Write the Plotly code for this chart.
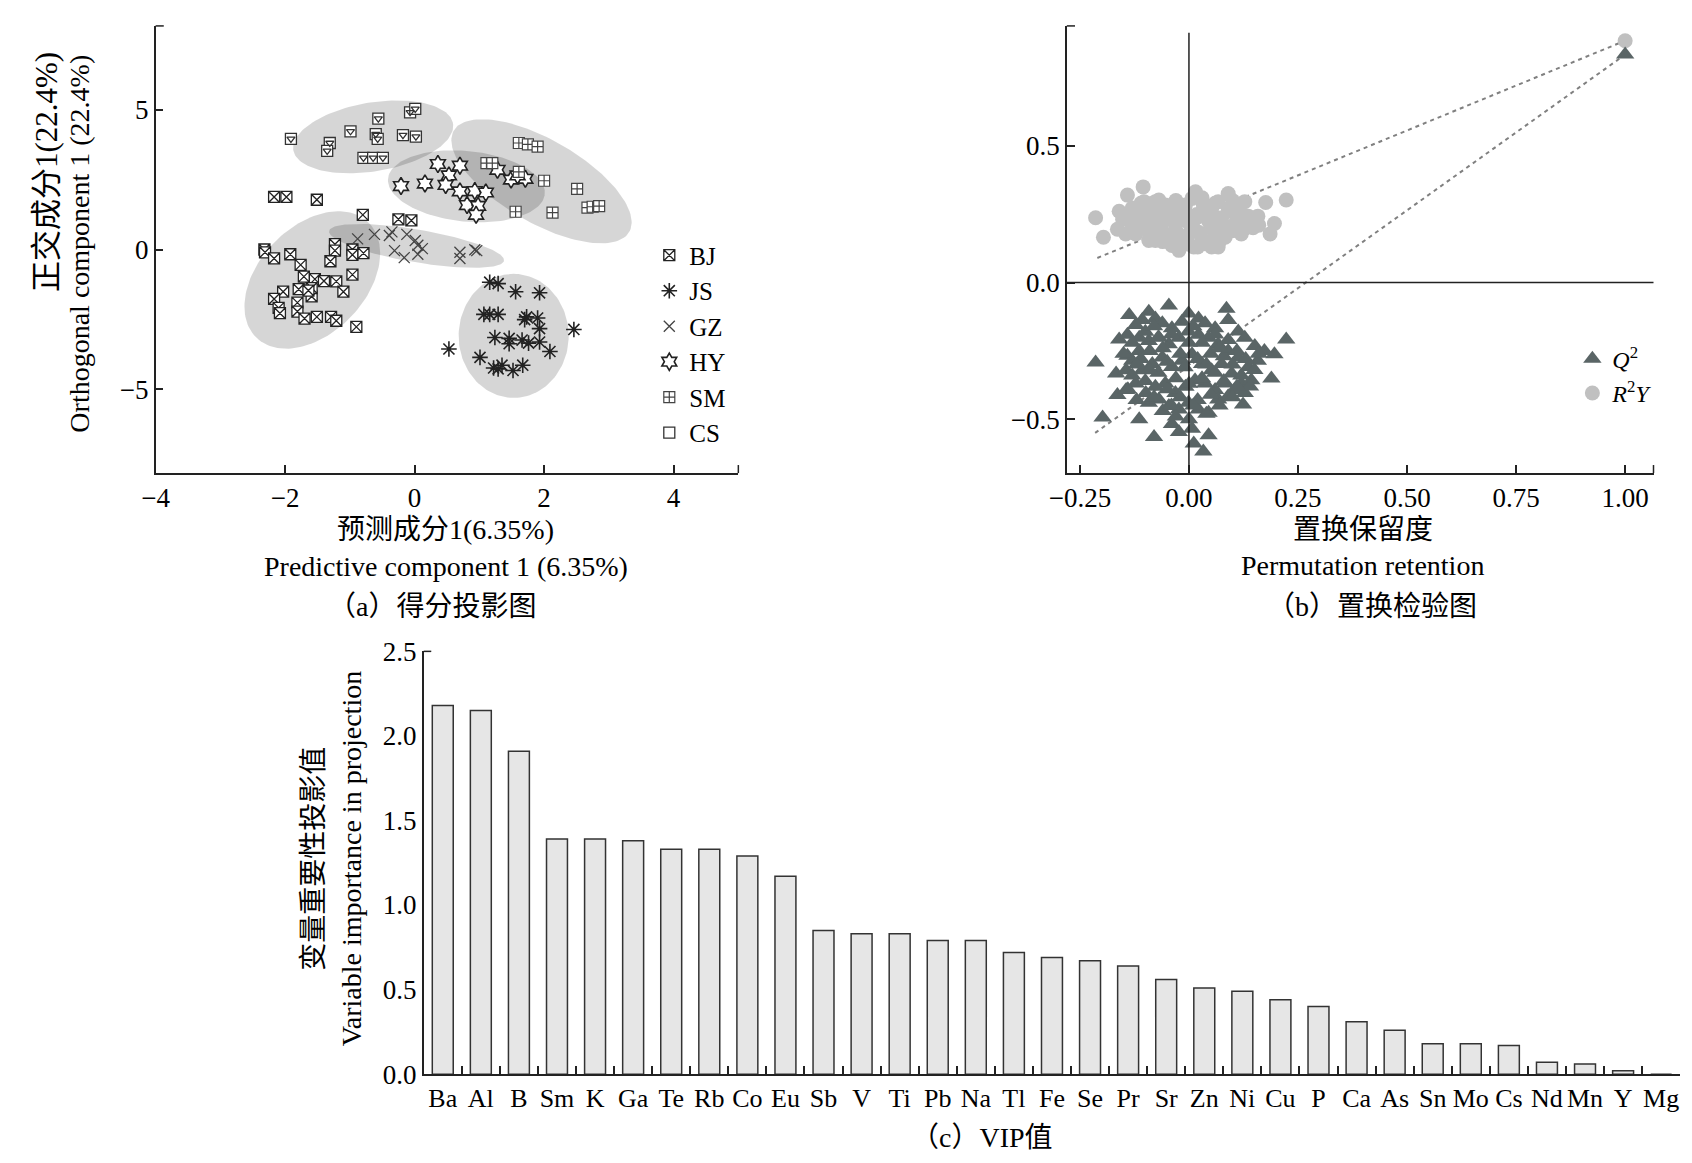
import numpy as np
import plotly.graph_objects as go

W, H = 1692, 1163
FONT = "Liberation Serif, Noto Sans CJK SC, serif"
INK = "#222222"

# ---------------- (a) score plot ----------------
bj_x = [-2.17, -1.98, -1.51, -0.80, -0.25, -0.05, -2.32, -2.31, -2.17, -1.92, -1.23, -1.23, -1.30,
        -0.96, -0.96, -0.79, -1.76, -1.71, -1.54, -1.40, -1.21, -0.96, -1.10, -1.79, -2.03, -2.17,
        -2.10, -2.08, -1.81, -1.81, -1.59, -1.70, -1.51, -1.29, -1.21, -0.90, -1.59, -1.64]
bj_y = [1.88, 1.88, 1.78, 1.24, 1.08, 1.04, 0.00, -0.10, -0.32, -0.17, 0.19, -0.04, -0.42,
        0.00, -0.19, -0.13, -0.55, -0.97, -1.06, -1.13, -1.14, -0.90, -1.51, -1.42, -1.51, -1.77,
        -2.09, -2.28, -1.90, -2.22, -1.68, -2.47, -2.41, -2.41, -2.55, -2.77, -1.38, -1.47]

js_x = [1.16, 1.29, 1.56, 1.93, 1.07, 1.16, 1.29, 1.70, 1.73, 1.90, 1.93, 2.46, 1.24,
        1.46, 1.66, 1.76, 1.93, 2.09, 1.46, 0.53, 1.01, 1.22, 1.35, 1.52, 1.67, 1.29]
js_y = [-1.17, -1.22, -1.51, -1.55, -2.32, -2.32, -2.32, -2.51, -2.41, -2.45, -2.83, -2.86, -3.15,
        -3.18, -3.24, -3.35, -3.31, -3.65, -3.37, -3.56, -3.86, -4.24, -4.14, -4.33, -4.14, -4.27]

gz_x = [-0.88, -0.62, -0.39, -0.35, -0.12, -0.31, -0.16, 0.01, 0.05, 0.12, 0.05, 0.70, 0.70, 0.93, 0.96]
gz_y = [0.38, 0.54, 0.50, 0.63, 0.54, -0.04, -0.29, 0.32, 0.15, 0.03, -0.17, -0.10, -0.32, -0.01, -0.04]

hy_x = [-0.21, 0.16, 0.36, 0.70, 0.53, 0.48, 0.70, 0.93, 1.10, 0.81, 0.98, 0.95, 1.28, 1.49, 1.71, 1.59]
hy_y = [2.27, 2.36, 3.06, 3.00, 2.65, 2.31, 2.08, 2.09, 2.04, 1.59, 1.56, 1.24, 2.85, 2.50, 2.53, 2.65]

sm_x = [1.61, 1.75, 1.90, 1.11, 1.20, 1.61, 2.00, 2.51, 2.67, 2.75, 2.85, 1.56, 2.13]
sm_y = [3.81, 3.76, 3.68, 3.09, 3.09, 2.78, 2.46, 2.17, 1.50, 1.53, 1.55, 1.35, 1.32]

cs_x = [-1.91, -1.31, -1.35, -0.99, -0.56, -0.60, -0.57, -0.79, -0.64, -0.49, -0.18, 0.02, -0.07, 0.01]
cs_y = [3.96, 3.81, 3.53, 4.23, 4.68, 4.13, 3.96, 3.28, 3.28, 3.28, 4.09, 4.04, 4.91, 5.03]

# group ellipses: centre x, centre y, semi-axes (x units), tilt (deg)
ell_cx = [-1.58, 1.53, 0.03, 0.80, 1.96, -0.64]
ell_cy = [-1.09, -3.09, 0.13, 2.26, 2.44, 4.03]
ell_a = [1.42, 1.18, 1.38, 1.22, 1.67, 1.26]
ell_b = [0.89, 0.85, 0.31, 0.67, 0.74, 0.65]
ell_ang = [60, 90, -12, -8, -38, 13]
Y_PER_X = 1.88

# ---------------- (b) permutation test ----------------
r2y_x = [-0.214, -0.196, -0.160, -0.164, -0.141, -0.152, -0.130, -0.105, -0.103, -0.114, -0.122,
         -0.092, -0.084, -0.077, -0.069, -0.061, -0.054, -0.046, -0.039, -0.031, -0.023, -0.016,
         -0.008, -0.005, 0.007, 0.011, 0.018, 0.022, 0.033, 0.037, 0.045, 0.052, 0.060, 0.067,
         0.075, 0.083, 0.090, 0.094, 0.105, 0.113, 0.120, 0.128, 0.136, 0.147, 0.158, 0.176,
         0.223, 0.196, 0.186, 0.113, 0.052, -0.077, -0.092, -0.023, 0.015, 0.067, -0.054,
         -0.107, -0.145, 0.000,
         -0.13, -0.12, -0.10, -0.09, -0.08, -0.07, -0.06, -0.05, -0.04, -0.03, -0.02, -0.01,
         0.00, 0.01, 0.02, 0.03, 0.04, 0.05, 0.06, 0.07, 0.08, 0.09, 0.10, 0.11, 0.12, 0.13,
         0.14, -0.11, -0.03, 0.03, 0.06, -0.06, 0.02, 0.05, -0.02, 0.16, 0.10, -0.14, 0.08, -0.09,
         1.000]
r2y_y = [0.237, 0.166, 0.261, 0.195, 0.320, 0.231, 0.273, 0.350, 0.296, 0.225, 0.178,
         0.261, 0.207, 0.154, 0.302, 0.237, 0.178, 0.273, 0.136, 0.213, 0.261, 0.166,
         0.284, 0.225, 0.308, 0.130, 0.249, 0.184, 0.284, 0.142, 0.225, 0.273, 0.178, 0.296,
         0.237, 0.166, 0.326, 0.261, 0.213, 0.284, 0.178, 0.296, 0.243, 0.201, 0.243, 0.293,
         0.302, 0.216, 0.178, 0.249, 0.130, 0.296, 0.154, 0.118, 0.332, 0.130, 0.284,
         0.249, 0.178, 0.178,
         0.21, 0.25, 0.20, 0.23, 0.27, 0.19, 0.22, 0.25, 0.16, 0.19, 0.23, 0.27,
         0.14, 0.20, 0.24, 0.16, 0.27, 0.20, 0.24, 0.15, 0.21, 0.27, 0.19, 0.23, 0.25, 0.20,
         0.22, 0.29, 0.30, 0.31, 0.29, 0.15, 0.13, 0.14, 0.14, 0.21, 0.30, 0.24, 0.18, 0.17,
         0.885]

q2_x = [-0.214, -0.198, -0.164, -0.137, -0.114, -0.080, 0.223, 0.189, 0.196, 0.124,
        -0.039, -0.023, 0.007, 0.045, 0.011, 0.033, -0.046, 0.086, -0.001, -0.092,
        -0.160, -0.141, -0.167, -0.144, -0.122, -0.107, -0.077, -0.061, -0.039, -0.016,
        0.022, 0.037, 0.060, 0.090, 0.113, 0.128, 0.151, 0.173, 0.158, 0.136,
        0.113, 0.090, 0.067, 0.045, 0.022, -0.001, -0.023, -0.046, -0.069, -0.092,
        -0.114, -0.130, -0.107, -0.084, -0.061, -0.039, -0.016, 0.007, 0.030, 0.052,
        0.075, 0.098, 0.120, 0.105, 0.083, 0.060, 0.037, 0.014, -0.008, -0.031,
        -0.054, -0.077, -0.099, -0.122, -0.144, -0.092, -0.069, -0.046, -0.023, -0.001,
        0.022, 0.045, 0.067, 0.090, 0.128, 0.143, -0.141, -0.114,
        -0.15, -0.13, -0.13, -0.12, -0.11, -0.10, -0.10, -0.09, -0.08, -0.08, -0.07, -0.06,
        -0.06, -0.05, -0.05, -0.04, -0.03, -0.03, -0.02, -0.02, -0.01, 0.00, 0.00, 0.00,
        0.01, 0.02, 0.02, 0.03, 0.03, 0.04, 0.05, 0.05, 0.06, 0.06, 0.07, 0.08, 0.08, 0.09,
        0.10, 0.10, 0.11, 0.12, 0.13, 0.14, 0.15, 0.16, -0.12, -0.09, 0.04, 0.07, -0.04,
        0.01, -0.07, 0.11, -0.14,
        1.000]
q2_y = [-0.292, -0.494, -0.411, -0.119, -0.500, -0.565, -0.208, -0.351, -0.262, -0.446,
        -0.517, -0.547, -0.535, -0.559, -0.589, -0.618, -0.084, -0.096, -0.113, -0.107,
        -0.208, -0.191, -0.333, -0.321, -0.155, -0.137, -0.131, -0.149, -0.167, -0.143,
        -0.131, -0.149, -0.167, -0.137, -0.179, -0.202, -0.232, -0.250, -0.286, -0.309,
        -0.274, -0.250, -0.226, -0.202, -0.191, -0.179, -0.202, -0.226, -0.202, -0.214,
        -0.250, -0.286, -0.321, -0.298, -0.274, -0.309, -0.286, -0.262, -0.298, -0.321,
        -0.298, -0.333, -0.369, -0.393, -0.369, -0.393, -0.369, -0.357, -0.381, -0.404,
        -0.369, -0.381, -0.404, -0.369, -0.393, -0.440, -0.428, -0.452, -0.464, -0.440,
        -0.464, -0.476, -0.428, -0.416, -0.404, -0.357, -0.268, -0.202,
        -0.26, -0.22, -0.34, -0.43, -0.28, -0.18, -0.36, -0.25, -0.42, -0.16, -0.33, -0.24,
        -0.47, -0.29, -0.39, -0.19, -0.35, -0.49, -0.26, -0.42, -0.31, -0.22, -0.37, -0.50,
        -0.16, -0.28, -0.43, -0.22, -0.35, -0.48, -0.26, -0.41, -0.19, -0.33, -0.45, -0.27,
        -0.36, -0.21, -0.30, -0.42, -0.25, -0.34, -0.28, -0.38, -0.32, -0.26, -0.30, -0.32,
        -0.30, -0.24, -0.45, -0.45, -0.20, -0.38, -0.39,
        0.834]

r2y_fit_x = [-0.21, 1.0]
r2y_fit_y = [0.09, 0.885]
q2_fit_x = [-0.215, 1.0]
q2_fit_y = [-0.55, 0.834]

# ---------------- (c) VIP ----------------
vip_labels = ["Ba", "Al", "B", "Sm", "K", "Ga", "Te", "Rb", "Co", "Eu", "Sb", "V", "Ti", "Pb", "Na",
              "Tl", "Fe", "Se", "Pr", "Sr", "Zn", "Ni", "Cu", "P", "Ca", "As", "Sn", "Mo", "Cs",
              "Nd", "Mn", "Y", "Mg"]
vip_values = [2.18, 2.15, 1.91, 1.39, 1.39, 1.38, 1.33, 1.33, 1.29, 1.17, 0.85, 0.83, 0.83, 0.79, 0.79,
              0.72, 0.69, 0.67, 0.64, 0.56, 0.51, 0.49, 0.44, 0.40, 0.31, 0.26, 0.18, 0.18, 0.17,
              0.07, 0.06, 0.02, 0.0]


def px(x):
    return x / W


def py(y):
    return 1 - y / H


fig = go.Figure()

# ellipses first, beneath the points
t = np.linspace(0, 2 * np.pi, 140)
for cx, cy, a, b, ang in zip(ell_cx, ell_cy, ell_a, ell_b, ell_ang):
    th = np.deg2rad(ang)
    ex = a * np.cos(t) * np.cos(th) - b * np.sin(t) * np.sin(th)
    ey = a * np.cos(t) * np.sin(th) + b * np.sin(t) * np.cos(th)
    fig.add_trace(go.Scatter(x=cx + ex, y=cy + ey * Y_PER_X, mode="lines", fill="toself",
                             fillcolor="rgba(0,0,0,0.16)", line=dict(width=0),
                             hoverinfo="skip", showlegend=False, xaxis="x", yaxis="y"))

groups = [
    ("BJ", bj_x, bj_y, dict(symbol="square-x", size=11, color="white", line=dict(color=INK, width=1.3))),
    ("JS", js_x, js_y, dict(symbol="asterisk-open", size=13, color=INK, line=dict(color=INK, width=1.6))),
    ("GZ", gz_x, gz_y, dict(symbol="x-thin-open", size=11, color="#444", line=dict(color="#444", width=1.3))),
    ("HY", hy_x, hy_y, dict(symbol="hexagram", size=13, color="white", line=dict(color=INK, width=1.6))),
    ("SM", sm_x, sm_y, dict(symbol="square-cross", size=11, color="white", line=dict(color="#444", width=1.2))),
    ("CS", cs_x, cs_y, dict(symbol="square", size=11, color="white", line=dict(color="#333", width=1.3))),
]
for name, gx, gy, mk in groups:
    fig.add_trace(go.Scatter(x=gx, y=gy, mode="markers", name=name, marker=mk,
                             xaxis="x", yaxis="y", legend="legend"))
fig.add_trace(go.Scatter(x=cs_x, y=cs_y, mode="markers", showlegend=False,
                         marker=dict(symbol="triangle-down-open", size=7, color="#333",
                                     line=dict(color="#333", width=1.3)),
                         xaxis="x", yaxis="y"))

# panel b
fig.add_trace(go.Scatter(x=r2y_fit_x, y=r2y_fit_y, mode="lines", showlegend=False,
                         line=dict(color="#808080", width=2, dash="4px,4px"), xaxis="x2", yaxis="y2"))
fig.add_trace(go.Scatter(x=q2_fit_x, y=q2_fit_y, mode="lines", showlegend=False,
                         line=dict(color="#808080", width=2, dash="4px,4px"), xaxis="x2", yaxis="y2"))
fig.add_trace(go.Scatter(x=r2y_x, y=r2y_y, mode="markers", name="<i>R</i><sup>2</sup><i>Y</i>",
                         marker=dict(symbol="circle", size=15, color="#c0c0c0", line=dict(width=0)),
                         xaxis="x2", yaxis="y2", legend="legend2"))
fig.add_trace(go.Scatter(x=q2_x, y=q2_y, mode="markers", name="<i>Q</i><sup>2</sup>",
                         marker=dict(symbol="triangle-up", size=16, color="#5a6566", line=dict(width=0)),
                         xaxis="x2", yaxis="y2", legend="legend2"))

# panel c
fig.add_trace(go.Bar(x=vip_labels, y=vip_values, width=0.55, showlegend=False,
                     marker=dict(color="#e6e6e6", line=dict(color="#333", width=1.5)),
                     xaxis="x3", yaxis="y3"))

tick_font = dict(family=FONT, size=27, color="black")
axis_common = dict(showline=True, linecolor=INK, linewidth=1.5, showgrid=False, zeroline=False,
                   ticks="inside", ticklen=8, tickcolor=INK, tickwidth=1.5, tickfont=tick_font,
                   fixedrange=True)

fig.update_layout(
    width=W, height=H,
    margin=dict(l=0, r=0, t=0, b=0),
    paper_bgcolor="white", plot_bgcolor="white",
    font=dict(family=FONT, size=28, color="black"),
    xaxis=dict(domain=[px(131), px(720)], range=[-4, 5], anchor="y",
               tickvals=[-4, -2, 0, 2, 4], ticktext=["\u22124", "\u22122", "0", "2", "4"],
               **axis_common),
    yaxis=dict(domain=[py(462), py(3)], range=[-8, 8], anchor="x",
               tickvals=[-5, 0, 5], ticktext=["\u22125", "0", "5"], **axis_common),
    xaxis2=dict(domain=[px(1052), px(1645)], range=[-0.28, 1.065], anchor="y2",
                tickvals=[-0.25, 0, 0.25, 0.5, 0.75, 1.0],
                ticktext=["\u22120.25", "0.00", "0.25", "0.50", "0.75", "1.00"], **axis_common),
    yaxis2=dict(domain=[py(462), py(3)], range=[-0.697, 0.939], anchor="x2",
                tickvals=[-0.5, 0, 0.5], ticktext=["\u22120.5", "0.0", "0.5"], **axis_common),
    xaxis3=dict(domain=[px(402), px(1672)], range=[-0.5, 32.5], anchor="y3", type="category",
                tickson="boundaries", tickangle=0,
                **{**axis_common, "tickfont": dict(family=FONT, size=26, color="black")}),
    yaxis3=dict(domain=[py(1079), py(645)], range=[0, 2.5], anchor="x3",
                tickvals=[0, 0.5, 1.0, 1.5, 2.0, 2.5], tickformat=".1f",
                **{**axis_common, "ticks": ""}),
    legend=dict(x=px(630), y=py(215), xanchor="left", yanchor="top", bgcolor="rgba(0,0,0,0)",
                font=dict(family=FONT, size=25), tracegroupgap=0, itemwidth=30),
    legend2=dict(x=px(1563), y=py(322), xanchor="left", yanchor="top", bgcolor="rgba(0,0,0,0)",
                 font=dict(family=FONT, size=24), traceorder="reversed", itemwidth=30),
)

# end-of-axis ticks (top of y axes, right end of x axes) and the zero lines of panel b
tick_line = dict(color=INK, width=1.5)
shapes = [
    dict(type="line", xref="x2", yref="y2 domain", x0=0, x1=0, y0=0, y1=0.985, line=tick_line),
    dict(type="line", xref="x2 domain", yref="y2", x0=0, x1=1, y0=0, y1=0, line=tick_line),
    dict(type="line", xref="x3 domain", yref="y3 domain", x0=0, x1=0.006, y0=1, y1=1, line=tick_line),
    dict(type="line", xref="x domain", yref="y domain", x0=0, x1=0.014, y0=1, y1=1, line=tick_line),
    dict(type="line", xref="x domain", yref="y domain", x0=1, x1=1, y0=0, y1=0.018, line=tick_line),
    dict(type="line", xref="x2 domain", yref="y2 domain", x0=0, x1=0.014, y0=1, y1=1, line=tick_line),
    dict(type="line", xref="x2 domain", yref="y2 domain", x0=1, x1=1, y0=0, y1=0.018, line=tick_line),
]
fig.update_layout(shapes=shapes)

ann = [
    ("预测成分1(6.35%)", 424, 520, 0, 28),
    ("Predictive component 1 (6.35%)", 425, 558, 0, 28),
    ("（a）得分投影图", 410, 599, 0, 28),
    ("置换保留度", 1351, 520, 0, 28),
    ("Permutation retention", 1351, 557, 0, 28),
    ("（b）置换检验图", 1360, 599, 0, 28),
    ("变量重要性投影值", 291, 858, -90, 28),
    ("Variable importance in projection", 329, 858, -90, 28),
    ("（c）VIP值", 966, 1144, 0, 28),
]
annotations = []
for text, ax_, ay_, ang, size in ann:
    annotations.append(dict(text=text, x=px(ax_), y=py(ay_), xref="paper", yref="paper",
                            xanchor="center", yanchor="middle", showarrow=False, textangle=ang,
                            font=dict(family=FONT, size=size, color="black")))
annotations.append(dict(text="正交成分1(22.4%)", x=px(20), y=py(28), xref="paper", yref="paper",
                        xanchor="center", yanchor="top", showarrow=False, textangle=-90,
                        font=dict(family=FONT, size=31, color="black")))
annotations.append(dict(text="Orthogonal component 1 (22.4%)", x=px(54), y=py(30), xref="paper",
                        yref="paper", xanchor="center", yanchor="top", showarrow=False, textangle=-90,
                        font=dict(family=FONT, size=28, color="black")))
fig.update_layout(annotations=annotations)

fig.write_html("out.html")
